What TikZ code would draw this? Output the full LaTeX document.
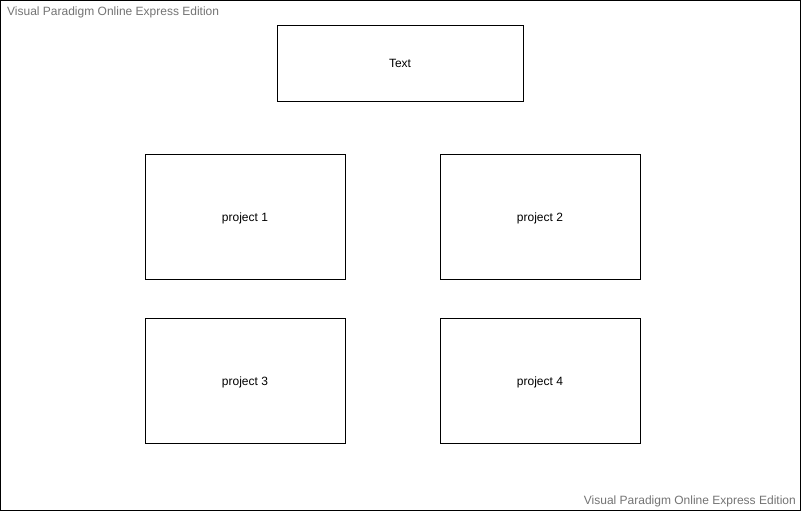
\documentclass[tikz,border=0pt]{standalone}
\usepackage{fontspec}
\setmainfont{Liberation Sans}
\usepackage{tikz}
\usetikzlibrary{positioning}

\begin{document}
\begin{tikzpicture}[x=1pt, y=-1pt,
  box/.style={draw, fill=white, line width=0.8pt, inner sep=0pt,
              text height=9pt, text depth=0pt,
              font=\fontsize{12}{14}\selectfont, align=center},
  wmark/.style={font=\fontsize{12}{14}\selectfont, text=black!55, inner sep=0pt}
]

% frame
\draw[line width=1pt] (0.5,0.5) rectangle (800.5,510.5);
\useasboundingbox (0,0) rectangle (801,511);

% watermarks
\node[wmark, anchor=west] (wmtop) at (7,12) {Visual Paradigm Online Express Edition};
\node[wmark, anchor=east] (wmbot) at (796,501) {Visual Paradigm Online Express Edition};

% title
\node[box, minimum width=246pt, minimum height=76pt] (title) at (400,63) {Text};

% projects
\node[box, minimum width=200pt, minimum height=125pt] (proj1) at (245,216.5) {project 1};
\node[box, minimum width=200pt, minimum height=125pt] (proj2) at (540,216.5) {project 2};
\node[box, minimum width=200pt, minimum height=125pt] (proj3) at (245,380.5) {project 3};
\node[box, minimum width=200pt, minimum height=125pt] (proj4) at (540,380.5) {project 4};

\end{tikzpicture}
\end{document}
